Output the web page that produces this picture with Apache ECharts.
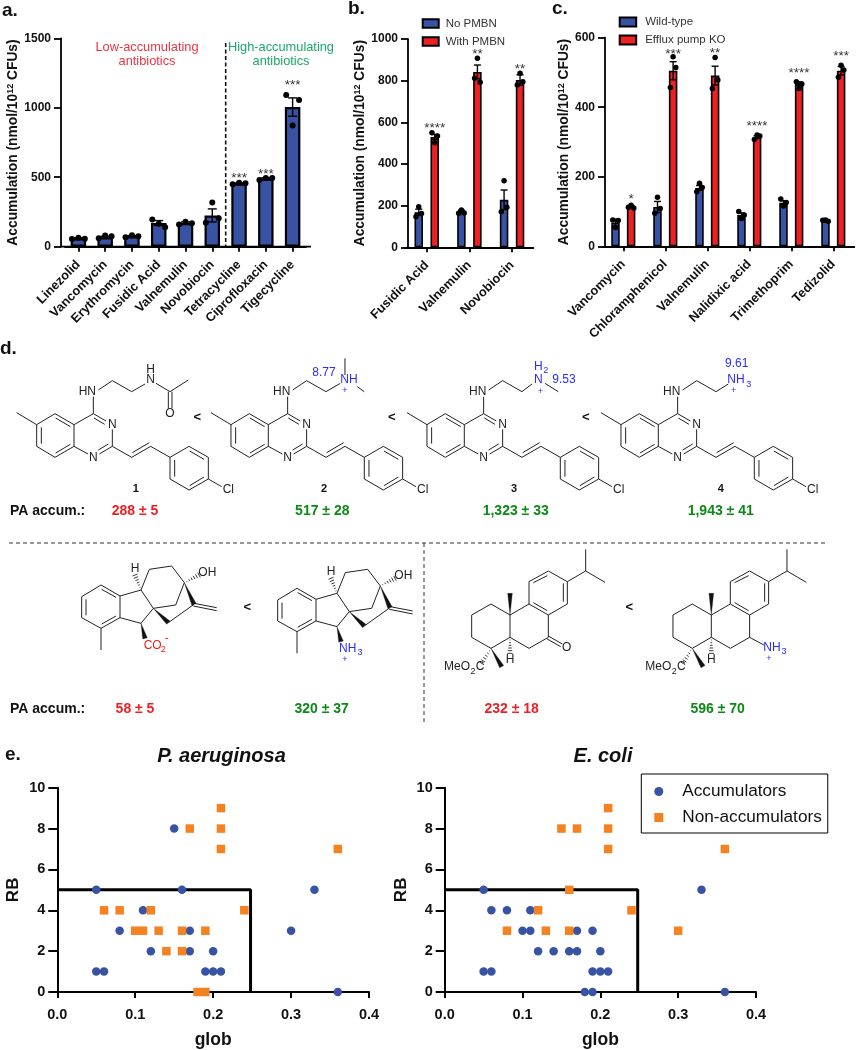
<!DOCTYPE html>
<html><head><meta charset="utf-8">
<style>html,body{margin:0;padding:0;background:#fff}#c{width:862px;height:1050px}</style>
<script src="https://cdn.jsdelivr.net/npm/echarts@6/dist/echarts.min.js"></script>
</head><body><div id="c"></div>
<script>
// ---------- panel a ----------
const aCategories=['Linezolid','Vancomycin','Erythromycin','Fusidic Acid','Valnemulin','Novobiocin','Tetracycline','Ciprofloxacin','Tigecycline'];
const aMeans=[60,68,75,170,170,225,455,490,1005];
const aErrors=[4,7,5,18,8,47,4,6,66];
const aDots=[[55,65,58],[60,80,76],[68,82,76],[195,165,140],[160,180,168],[172,319,204],[450,460,456],[480,495,495],[1092,873,1056]];
const aSig=['','','','','','','***','***','***'];
const aSigY=[0,0,0,0,0,0,495,524,1160];
// ---------- panel b ----------
const bCategories=['Fusidic Acid','Valnemulin','Novobiocin'];
const bBlue=[168,170,228],bBlueErr=[15,8,47],bRed=[530,842,803],bRedErr=[12,33,25];
const bBlueDots=[[147,195,162],[163,179,165],[171,320,192]];
const bRedDots=[[550,502,534],[811,907,792],[779,835,795]];
const bSig=['****','**','**'],bSigY=[572,928,853];
// ---------- panel c ----------
const cCategories=['Vancomycin','Chloramphenicol','Valnemulin','Nalidixic acid','Trimethoprim','Tedizolid'];
const cBlue=[68,113,168,90,125,73],cBlueErr=[10,16,7,6,6,2];
const cRed=[113,505,491,314,468,505],cRedErr=[3,26,27,4,5,12];
const cBlueDots=[[76,54,74],[95,141,109],[157,181,169],[100,80,90],[136,116,126],[75,76,72]];
const cRedDots=[[112,118,110],[457,545,514],[454,543,478],[307,320,317],[473,454,467],[486,521,507]];
const cSig=['*','***','**','****','****','***'],cSigY=[134,552,555,344,498,546];
// ---------- panel e ----------
const paAccum=[[0.05,5],[0.16,5],[0.33,5],[0.15,8],[0.11,4],[0.08,3],[0.17,3],[0.30,3],[0.12,2],[0.17,2],[0.20,2],[0.05,1],[0.06,1],[0.19,1],[0.20,1],[0.21,1],[0.36,0]];
const paNon=[[0.17,8],[0.21,9],[0.21,8],[0.21,7],[0.36,7],[0.06,4],[0.08,4],[0.12,4],[0.24,4],[0.10,3],[0.11,3],[0.13,3],[0.16,3],[0.19,3],[0.14,2],[0.16,2],[0.18,0],[0.19,0]];
const ecAccum=[[0.05,5],[0.33,5],[0.06,4],[0.08,4],[0.11,4],[0.10,3],[0.11,3],[0.17,3],[0.19,3],[0.12,2],[0.14,2],[0.16,2],[0.17,2],[0.20,2],[0.05,1],[0.06,1],[0.19,1],[0.20,1],[0.21,1],[0.18,0],[0.19,0],[0.36,0]];
const ecNon=[[0.15,8],[0.17,8],[0.21,9],[0.21,8],[0.21,7],[0.36,7],[0.16,5],[0.12,4],[0.24,4],[0.08,3],[0.13,3],[0.16,3],[0.30,3]];
const boxCorner=[[0,5],[0.248,5],[0.248,0]];
const jitterA=[-0.24,0,0.24],jitterBC=[-0.065,0,0.065];

const FF='"Liberation Sans",Arial,sans-serif';
const BLUE='#3953a4',RED='#ed2024',ORANGE='#f58220',GREEN='#0b8a16';
const chart=echarts.init(document.getElementById('c'),null,{renderer:'canvas'});

const grids=[
 {left:65,width:241,top:38.3,height:208.4},
 {left:405.4,width:128,top:39,height:208.3},
 {left:602.3,width:252,top:37.7,height:208.6},
 {left:57.3,width:311.7,top:787.7,height:207.3},
 {left:444.7,width:311.3,top:787.7,height:207.3}
];
function catAxis(g,cats){return {type:'category',gridIndex:g,data:cats,
  axisLine:{onZero:false,lineStyle:{color:'#000',width:1.8}},axisTick:{show:true,alignWithLabel:true,length:5,lineStyle:{color:'#000',width:1.8}},
  axisLabel:{rotate:45,interval:0,margin:16,color:'#111',fontFamily:FF,fontWeight:'bold',fontSize:12.8}};}
function hidX(g,n){return {type:'value',gridIndex:g,min:-0.5,max:n-0.5,show:false};}
function valY(g,max,step,off,nameGap){return {type:'value',gridIndex:g,min:0,max,interval:step,offset:off,
  name:'{a|Accumulation (nmol/10}{s|12}{a| CFUs)}',nameLocation:'middle',nameGap,nameRotate:90,
  nameTextStyle:{rich:{a:{fontFamily:FF,fontWeight:'bold',fontSize:13.8,color:'#111'},s:{fontFamily:FF,fontWeight:'bold',fontSize:9,color:'#111',verticalAlign:'top',lineHeight:14}}},
  splitLine:{show:false},axisLine:{show:true,onZero:false,lineStyle:{color:'#000',width:1.8}},axisTick:{show:true,length:7,lineStyle:{color:'#000',width:1.8}},
  axisLabel:{margin:10,color:'#111',fontFamily:FF,fontWeight:'bold',fontSize:12,formatter:v=>String(v)}};}
function eX(g){return {type:'value',gridIndex:g,min:0,max:0.4,interval:0.1,name:'glob',nameLocation:'middle',nameGap:39,
  nameTextStyle:{fontFamily:FF,fontWeight:'bold',fontSize:17.5,color:'#111'},splitLine:{show:false},
  axisLine:{onZero:false,lineStyle:{color:'#000',width:2}},axisTick:{show:true,length:6,lineStyle:{color:'#000',width:2}},
  axisLabel:{margin:15,color:'#111',fontFamily:FF,fontWeight:'bold',fontSize:14.5,formatter:v=>v.toFixed(1)}};}
function eY(g){return {type:'value',gridIndex:g,min:0,max:10,interval:2,name:'RB',nameLocation:'middle',nameGap:35,nameRotate:90,
  nameTextStyle:{fontFamily:FF,fontWeight:'bold',fontSize:17,color:'#111'},splitLine:{show:false},
  axisLine:{show:true,onZero:false,lineStyle:{color:'#000',width:2}},axisTick:{show:true,length:9,lineStyle:{color:'#000',width:2}},
  axisLabel:{margin:12,color:'#111',fontFamily:FF,fontWeight:'bold',fontSize:14.5}};}

const series=[];
function bars(name,x,y,vals,color,bw,gap,bd){series.push({type:'bar',name,xAxisIndex:x,yAxisIndex:y,data:vals,barWidth:bw,barGap:gap,z:2,
  itemStyle:{color,borderColor:'#000',borderWidth:bd}});}
function dots(xi,yi,rows,off,size,jit){const d=[];rows.forEach((r,i)=>r.forEach((v,k)=>d.push([i+off+jit[k],v])));
  series.push({type:'scatter',xAxisIndex:xi,yAxisIndex:yi,data:d,symbolSize:size,itemStyle:{color:'#000',opacity:1},z:5,clip:false,silent:true});}
function errs(xi,yi,means,er,off,cap){series.push({type:'custom',xAxisIndex:xi,yAxisIndex:yi,z:4,silent:true,clip:false,
  data:means.map((m,i)=>[i+off,m,er[i]]),
  renderItem(p,api){const x=api.value(0),m=api.value(1),e=api.value(2);const a=api.coord([x,m+e]),b=api.coord([x,m-e]);
    const st={stroke:'#000',lineWidth:1.4,fill:null};
    return {type:'group',children:[{type:'line',shape:{x1:a[0],y1:a[1],x2:b[0],y2:b[1]},style:st},
      {type:'line',shape:{x1:a[0]-cap,y1:a[1],x2:a[0]+cap,y2:a[1]},style:st},{type:'line',shape:{x1:b[0]-cap,y1:b[1],x2:b[0]+cap,y2:b[1]},style:st}]};}});}
function sig(xi,yi,labels,ys,off){series.push({type:'custom',xAxisIndex:xi,yAxisIndex:yi,z:6,silent:true,clip:false,
  data:labels.map((s,i)=>[i+off,ys[i]]),
  renderItem(p,api){const s=labels[p.dataIndex];if(!s)return null;const c=api.coord([api.value(0),api.value(1)]);
    return {type:'text',x:c[0],y:c[1],style:{text:s,textAlign:'center',textVerticalAlign:'middle',font:'13.5px '+FF,fill:'#333'}};}});}

// a
bars('Accumulation',0,0,aMeans,BLUE,15.5,undefined,2.2);
errs(1,0,aMeans,aErrors,0,4.5);dots(1,0,aDots,0,6,jitterA);sig(1,0,aSig,aSigY,0);
// b
const bOff=8/42.7;
bars('No PMBN',2,1,bBlue,BLUE,8.5,'88%',1.6);bars('With PMBN',2,1,bRed,RED,8.5,'88%',1.6);
errs(3,1,bBlue,bBlueErr,-bOff,3.5);errs(3,1,bRed,bRedErr,bOff,3.5);
dots(3,1,bBlueDots,-bOff,5.5,jitterBC);dots(3,1,bRedDots,bOff,5.5,jitterBC);sig(3,1,bSig,bSigY,bOff);
// c
const cOff=7.8/42;
bars('Wild-type',4,2,cBlue,BLUE,8.5,'84%',1.6);bars('Efflux pump KO',4,2,cRed,RED,8.5,'84%',1.6);
errs(5,2,cBlue,cBlueErr,-cOff,3.5);errs(5,2,cRed,cRedErr,cOff,3.5);
dots(5,2,cBlueDots,-cOff,5.5,jitterBC);dots(5,2,cRedDots,cOff,5.5,jitterBC);sig(5,2,cSig,cSigY,cOff);
// e
function scat(xi,yi,acc,non){
  series.push({type:'line',xAxisIndex:xi,yAxisIndex:yi,data:boxCorner,showSymbol:false,symbol:'none',lineStyle:{color:'#000',width:3},z:2,silent:true,clip:false});
  series.push({type:'scatter',name:'Accumulators',xAxisIndex:xi,yAxisIndex:yi,data:acc,symbol:'circle',symbolSize:8.5,itemStyle:{color:BLUE,opacity:1},z:4,clip:false});
  series.push({type:'scatter',name:'Non-accumulators',xAxisIndex:xi,yAxisIndex:yi,data:non,symbol:'rect',symbolSize:8.5,itemStyle:{color:ORANGE,opacity:1},z:5,clip:false});
}
scat(6,3,paAccum,paNon);scat(7,4,ecAccum,ecNon);

// ---------- graphic helpers (structures and decorations) ----------
const G=[];
function seg(pts,ox,oy,color,w){G.push({type:'polyline',silent:true,shape:{points:pts.map(p=>[ox+p[0]/3,oy+p[1]/3])},style:{stroke:color||'#222',lineWidth:w||1,fill:null}});}
function txt(s,x,y,opt){opt=opt||{};G.push({type:'text',silent:true,x,y,style:{text:s,textAlign:opt.align||'center',textVerticalAlign:'middle',fill:opt.color||'#222',
  font:(opt.italic?'italic ':'')+(opt.bold?'bold ':'')+(opt.size||12)+'px '+FF}});}
function zt(s,zx,zy,ox,oy,opt){txt(s,ox+zx/3,oy+zy/3,opt);}
function wedge(a,b,ox,oy){const dx=b[0]-a[0],dy=b[1]-a[1],l=Math.hypot(dx,dy),nx=-dy/l*7,ny=dx/l*7;
  G.push({type:'polygon',silent:true,shape:{points:[[a[0],a[1]],[b[0]+nx,b[1]+ny],[b[0]-nx,b[1]-ny]].map(p=>[ox+p[0]/3,oy+p[1]/3])},style:{fill:'#111',stroke:'#111',lineWidth:0.3}});}
function hash(a,b,ox,oy){const dx=b[0]-a[0],dy=b[1]-a[1],l=Math.hypot(dx,dy),n=6;for(let i=1;i<=n;i++){const t=i/n,w=t*8,nx=-dy/l*w,ny=dx/l*w,cx=a[0]+dx*t,cy=a[1]+dy*t;
  seg([[cx+nx,cy+ny],[cx-nx,cy-ny]],ox,oy,'#222',0.9);}}

const BL='#2a2aff';
function quinazoline(ox){const oy=340;
  [[[50,218],[110,254]],[[110,254],[165,221],[222,254],[222,319],[165,352],[110,319],[110,254]],[[124,262],[124,311]],[[167,234],[211,260]],[[167,339],[211,313]],
   [[222,254],[280,221],[318,243]],[[282,234],[314,253]],[[337,268],[337,319],[298,342]],[[325,312],[295,330]],[[264,342],[222,319]],[[280,221],[280,170]],
   [[295,150],[337,122],[395,155]],[[337,319],[395,352],[452,319],[510,352]],[[397,338],[448,308]],
   [[510,352],[567,319],[625,352],[625,417],[567,450],[510,417],[510,352]],[[524,360],[524,410]],[[569,333],[612,358]],[[569,437],[612,411]],[[625,417],[665,440]]
  ].forEach(s=>seg(s,ox,oy));
  zt('HN',262,155,ox,oy);zt('N',337,254,ox,oy);zt('N',280,352,ox,oy);zt('Cl',685,450,ox,oy);
}
// compound 1
quinazoline(0);
[[[395,155],[435,132]],[[468,130],[510,155],[565,120]],[[505,155],[505,205]],[[516,155],[516,205]]].forEach(s=>seg(s,0,340));
zt('H',452,90,0,340);zt('N',452,120,0,340);zt('O',510,220,0,340);
// compound 2
const o2=194.3;quinazoline(o2);
[[[395,155],[438,130]],[[452,55],[452,105]],[[489,140],[510,155]]].forEach(s=>seg(s,o2,340));
zt('NH',464,120,o2,340,{color:BL});zt('+',452,153,o2,340,{color:BL,size:9});zt('8.77',389,98,o2,340,{color:BL});
// compound 3
const o3=390.3;quinazoline(o3);
[[[395,155],[425,132]],[[464,130],[504,155]]].forEach(s=>seg(s,o3,340));
zt('N',444,120,o3,340,{color:BL});zt('H',444,80,o3,340,{color:BL});zt('2',466,93,o3,340,{color:BL,size:9});zt('+',450,155,o3,340,{color:BL,size:9});zt('9.53',521,120,o3,340,{color:BL});
// compound 4
const o4=584.3;quinazoline(o4);
seg([[395,155],[432,132]],o4,340);
zt('NH',455,120,o4,340,{color:BL});zt('3',493,133,o4,340,{color:BL,size:9});zt('+',448,153,o4,340,{color:BL,size:9});zt('9.61',457,72,o4,340,{color:BL});
// compound labels & comparators
[['1',135.7],['2',324],['3',514],['4',720.7]].forEach(a=>txt(a[0],a[1],488.5,{bold:true,size:11,color:'#111'}));
[197.3,391.7,585.7].forEach(x=>txt('<',x,417.5,{bold:true,size:13,color:'#111'}));
// PA rows
txt('PA accum.:',10,511,{bold:true,size:14,align:'left',color:'#111'});
txt('PA accum.:',10,709.3,{bold:true,size:14,align:'left',color:'#111'});
[['288 ± 5',135,511,RED],['517 ± 28',322.3,511,GREEN],['1,323 ± 33',515.7,511,GREEN],['1,943 ± 41',720.7,511,GREEN],
 ['58 ± 5',135,709.3,RED],['320 ± 37',321.7,709.3,GREEN],['232 ± 18',511.7,709.3,RED],['596 ± 70',717.7,709.3,GREEN]
].forEach(a=>txt(a[0],a[1],a[2],{bold:true,size:14,color:a[3]}));
// fused tetracycle
function kaurane(ox,oy){
  [[[245,170],[303,135],[360,168],[360,233],[303,265],[245,233],[245,170]],[[258,178],[258,226]],[[305,148],[348,172]],[[305,252],[348,228]],[[303,265],[303,330]],
   [[360,168],[423,150],[460,205],[423,250],[360,233]],[[423,150],[448,88],[515,78],[553,128],[527,195],[460,205]],[[582,193],[505,248]],[[582,190],[650,203]],[[580,198],[650,212]]
  ].forEach(s=>seg(s,ox,oy));
  hash([423,150],[405,105],ox,oy);hash([553,128],[597,105],ox,oy);wedge([553,128],[582,193],ox,oy);wedge([460,205],[505,248],ox,oy);wedge([423,250],[435,295],ox,oy);
  zt('H',405,85,ox,oy);zt('OH',622,97,ox,oy);
}
kaurane(0,540);
zt('CO',458,318,0,540,{color:RED});zt('2',490,330,0,540,{color:RED,size:9});zt('-',500,295,0,540,{color:RED,size:12});
kaurane(196,543.3);
zt('NH',455,315,196,543.3,{color:BL});zt('3',492,327,196,543.3,{color:BL,size:9});zt('+',447,350,196,543.3,{color:BL,size:9});
txt('<',247.3,607.5,{bold:true,size:13,color:'#111'});
// abietane
function abietane(ox,oy){
  [[[125,225],[183,192],[240,225],[240,292],[183,325],[125,292],[125,225]],[[240,225],[297,192],[355,225],[355,292],[297,325],[240,292]],
   [[297,192],[297,125],[355,93],[412,125],[412,192],[355,225]],[[310,128],[352,107]],[[400,130],[400,185]],[[310,188],[352,212]],
   [[412,125],[467,93],[467,28]],[[467,93],[525,127]]].forEach(s=>seg(s,ox,oy));
  wedge([240,225],[240,160],ox,oy);hash([240,292],[240,340],ox,oy);wedge([183,325],[215,380],ox,oy);hash([183,325],[155,370],ox,oy);
  zt('H',240,360,ox,oy);zt('MeO',81,381,ox,oy);zt('2',129,395,ox,oy,{size:9});zt('C',150,381,ox,oy);
}
abietane(430,540);
seg([[355,288],[397,312]],430,540);seg([[350,296],[392,320]],430,540);zt('O',410,323,430,540);
abietane(631.3,540);
seg([[355,292],[398,315]],631.3,540);
zt('NH',422,323,631.3,540,{color:BL});zt('3',458,335,631.3,540,{color:BL,size:9});zt('+',413,357,631.3,540,{color:BL,size:9});
txt('<',629.3,607.5,{bold:true,size:13,color:'#111'});
// dividers
G.push({type:'line',silent:true,shape:{x1:9,y1:543,x2:826.7,y2:543},style:{stroke:'#333',lineWidth:1,lineDash:[4,3]}});
G.push({type:'line',silent:true,shape:{x1:424,y1:543,x2:424,y2:725},style:{stroke:'#333',lineWidth:1,lineDash:[4,3]}});
// panel a decorations
G.push({type:'line',silent:true,shape:{x1:61,y1:246.7,x2:311,y2:246.7},style:{stroke:'#000',lineWidth:1.8}});
G.push({type:'line',silent:true,shape:{x1:225.7,y1:43,x2:225.7,y2:246},style:{stroke:'#111',lineWidth:1.6,lineDash:[4,2.5]}});
txt('Low-accumulating',147,47,{size:12.8,color:'#ee3342'});txt('antibiotics',147,61,{size:12.8,color:'#ee3342'});
txt('High-accumulating',281,47,{size:12.8,color:'#1aa868'});txt('antibiotics',281,61,{size:12.8,color:'#1aa868'});
// panel letters
[['a.',2,11],['b.',348,9],['c.',552,9],['d.',0,349],['e.',5,755]].forEach(a=>txt(a[0],a[1],a[2],{bold:true,size:19,align:'left',color:'#111'}));

chart.setOption({
  backgroundColor:'#fff',animation:false,
  title:[
    {text:'P. aeruginosa',left:221.5,top:746,textAlign:'center',padding:0,textStyle:{fontFamily:FF,fontWeight:'bold',fontStyle:'italic',fontSize:20,color:'#111'}},
    {text:'E. coli',left:603,top:746,textAlign:'center',padding:0,textStyle:{fontFamily:FF,fontWeight:'bold',fontStyle:'italic',fontSize:20,color:'#111'}}
  ],
  legend:[
    {orient:'vertical',left:421.7,top:17.5,padding:0,icon:'rect',itemWidth:16,itemHeight:8.5,itemGap:6,data:['No PMBN','With PMBN'],textStyle:{fontFamily:FF,fontSize:11.5,color:'#333',padding:[0,0,0,2]},selectedMode:false},
    {orient:'vertical',left:618.7,top:16,padding:0,icon:'rect',itemWidth:16.5,itemHeight:9,itemGap:6,data:['Wild-type','Efflux pump KO'],textStyle:{fontFamily:FF,fontSize:11.5,color:'#333',padding:[0,0,0,4]},selectedMode:false},
    {orient:'vertical',left:641.3,top:774,padding:[9,6,7,13],itemWidth:9,itemHeight:9,itemGap:9,data:['Accumulators','Non-accumulators'],borderColor:'#000',borderWidth:1,backgroundColor:'#fff',textStyle:{fontFamily:FF,fontSize:17.2,color:'#111',padding:[0,0,0,14]},selectedMode:false}
  ],
  grid:grids,
  xAxis:[catAxis(0,aCategories),hidX(0,9),catAxis(1,bCategories),hidX(1,3),catAxis(2,cCategories),hidX(2,6),eX(3),eX(4)],
  yAxis:[valY(0,1500,500,4,40),valY(1,1000,200,-2.6,40),valY(2,600,200,-2.7,34),eY(3),eY(4)],
  series,
  graphic:{elements:G}
});
</script></body></html>
